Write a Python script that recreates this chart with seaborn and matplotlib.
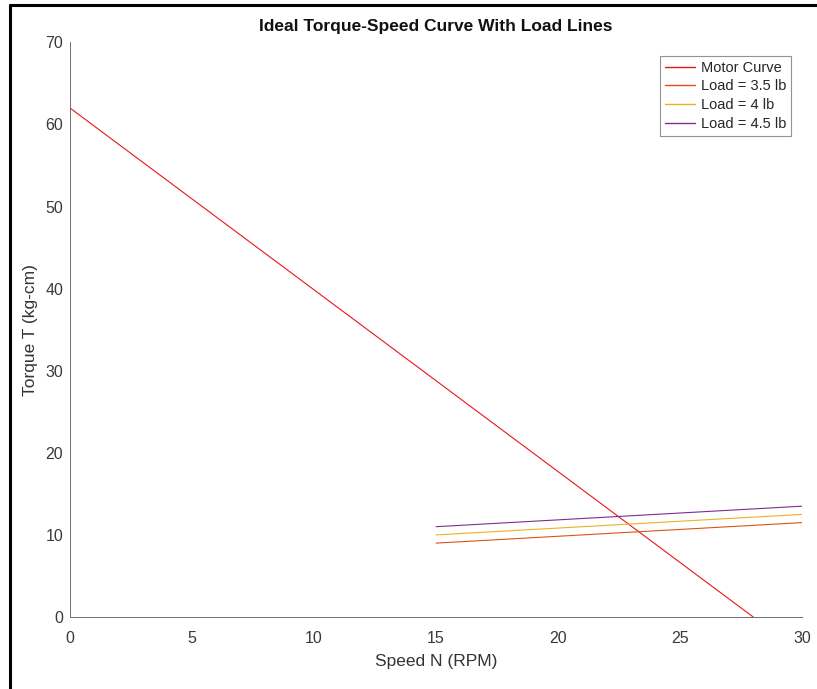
import pandas as pd
import numpy as np
import matplotlib.pyplot as plt
import seaborn as sns
from matplotlib.lines import Line2D

# -------------------------------
# Data
# -------------------------------

motor_speed = [0, 28]
motor_torque = [62, 0]

load_speed = [15, 30]
load_35 = [9, 11.5]
load_40 = [10, 12.5]
load_45 = [11, 13.5]

series_names = ["Motor Curve", "Load = 3.5 lb", "Load = 4 lb", "Load = 4.5 lb"]
series_colors = ["#e8161b", "#D95319", "#EDB120", "#7E2F8E"]

series_x = [motor_speed, load_speed, load_speed, load_speed]
series_y = [motor_torque, load_35, load_40, load_45]

# -------------------------------
# Plot
# -------------------------------

sns.set_style("white")
plt.rcParams["font.family"] = ["Liberation Sans", "DejaVu Sans"]

fig = plt.figure(figsize=(8.17, 6.89), dpi=100)
ax = fig.add_axes([0.0857, 0.1045, 0.896, 0.834])

for x, y, color in zip(series_x, series_y, series_colors):
    sns.lineplot(x=x, y=y, color=color, linewidth=0.8, ax=ax)

ax.set_xlim(0, 30)
ax.set_ylim(0, 70)
ax.set_xticks(range(0, 31, 5))
ax.set_yticks(range(0, 71, 10))

gray = "#6e6e6e"
for side in ["top", "right"]:
    ax.spines[side].set_visible(False)
for side in ["left", "bottom"]:
    ax.spines[side].set_color(gray)
    ax.spines[side].set_linewidth(0.7)
ax.tick_params(direction="in", length=5, width=0.7, color=gray, labelcolor="#3a3a3a",
               labelsize=11.5)
ax.tick_params(axis="x", pad=10)
ax.tick_params(axis="y", pad=5)

ax.set_xlabel("Speed N (RPM)", fontsize=12.5, color="#333333", labelpad=6)
ax.set_ylabel("Torque T (kg-cm)", fontsize=12.5, color="#333333", labelpad=5)
ax.set_title("Ideal Torque-Speed Curve With Load Lines", fontsize=12.5,
             fontweight="bold", color="#111111", pad=8)

handles = [Line2D([], [], color=c, linewidth=1.0) for c in series_colors]
leg = ax.legend(handles, series_names, loc="upper right", bbox_to_anchor=(0.985, 0.977),
                fontsize=10.5, frameon=True, fancybox=False, handlelength=2.1,
                handletextpad=0.35, labelspacing=0.32, borderpad=0.35, borderaxespad=0.0)
leg.get_frame().set_edgecolor("#777777")
leg.get_frame().set_linewidth(0.8)

# screenshot border
fig.add_artist(Line2D([0.0125, 0.0125], [0.0, 0.993], transform=fig.transFigure,
                      color="black", linewidth=2.2))
fig.add_artist(Line2D([0.0125, 1.0], [0.993, 0.993], transform=fig.transFigure,
                      color="black", linewidth=2.2))

fig.savefig("out.png", dpi=100)
